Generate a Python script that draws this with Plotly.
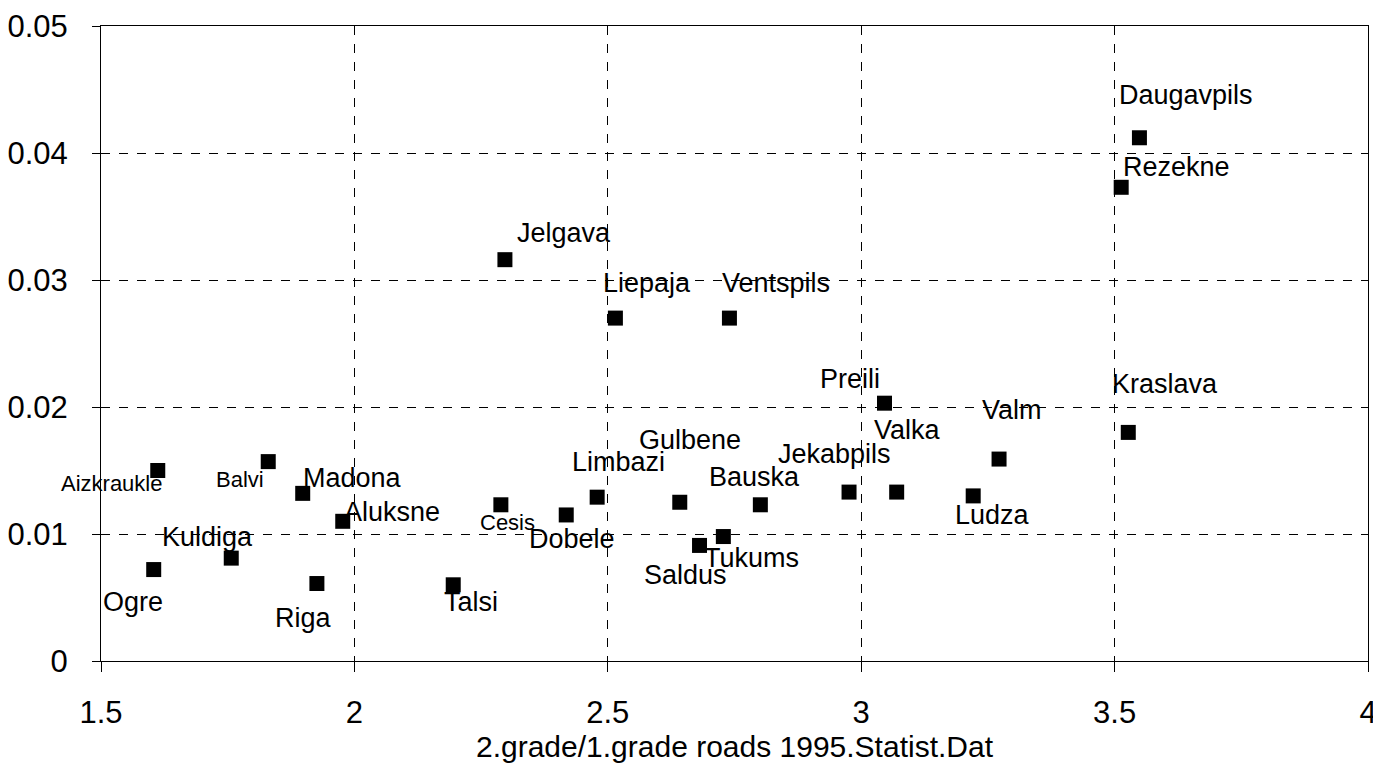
import plotly.graph_objects as go

FONT = "Liberation Sans, Arial, sans-serif"

# districts: ratio of 2nd/1st grade roads vs. y value
districts = ["Aizkraukle", "Ogre", "Kuldiga", "Balvi", "Madona", "Riga", "Aluksne",
             "Talsi", "Jelgava", "Liepaja", "Ventspils", "Daugavpils", "Rezekne",
             "Cesis", "Dobele", "Limbazi", "Gulbene", "Saldus", "Tukums", "Bauska",
             "Jekabpils", "Preili", "Valka", "Valm", "Ludza", "Kraslava"]
road_ratio = [1.612, 1.604, 1.757, 1.830, 1.898, 1.926, 1.977,
              2.195, 2.297, 2.515, 2.740, 3.549, 3.513,
              2.289, 2.418, 2.479, 2.642, 2.681, 2.728, 2.801,
              2.976, 3.046, 3.070, 3.272, 3.221, 3.527]
value = [0.0150, 0.0072, 0.0081, 0.0157, 0.0132, 0.0061, 0.0110,
         0.0060, 0.0316, 0.0270, 0.0270, 0.0412, 0.0373,
         0.0123, 0.0115, 0.0129, 0.0125, 0.0091, 0.0098, 0.0123,
         0.0133, 0.0203, 0.0133, 0.0159, 0.0130, 0.0180]

# label offsets from marker in px (dx right, dy down)
label_dx = [-46, -21, -24, -28, 50, -13, 49, 18, 59, 32, 47, 47, 55,
            7, 6, 21, 10, -14, 28, -6, -15, -35, 11, 13, 19, 37]
label_dy = [13, 32, -21, 18, -15, 34, -9, 17, -27, -35, -35, -43, -20,
            18, 24, -35, -62, 30, 21, -28, -38, -24, -62, -49, 19, -48]
small_labels = {"Aizkraukle", "Balvi", "Cesis"}

fig = go.Figure()
fig.add_trace(go.Scatter(
    x=road_ratio, y=value, mode="markers",
    marker=dict(symbol="square", size=15, color="black"),
    showlegend=False, hoverinfo="skip"))

for name, x, y, dx, dy in zip(districts, road_ratio, value, label_dx, label_dy):
    fig.add_annotation(x=x, y=y, text=name, showarrow=False,
                       xanchor="center", yanchor="middle",
                       xshift=dx, yshift=-dy,
                       font=dict(family=FONT, size=22 if name in small_labels else 27, color="black"))

axis_style = dict(showgrid=True, gridcolor="black", griddash="dash", gridwidth=1,
                  showline=True, linecolor="black", linewidth=1, mirror=True,
                  ticks="outside", tickcolor="black", zeroline=False, automargin=False,
                  tickfont=dict(family=FONT, size=31, color="black"))

fig.update_xaxes(range=[1.5, 4], dtick=0.5, tick0=1.5, ticklen=10,
                 ticklabelstandoff=14,
                 title=dict(text="2.grade/1.grade roads 1995.Statist.Dat",
                            font=dict(family=FONT, size=30, color="black"), standoff=2),
                 **axis_style)
fig.update_yaxes(range=[0, 0.05], dtick=0.01, ticklen=8, ticklabelstandoff=18,
                 **axis_style)

# the page body adds an 8px margin, so margins are offset accordingly
fig.update_layout(width=1381, height=763, paper_bgcolor="white", plot_bgcolor="white",
                  margin=dict(l=93, r=21, t=18, b=110))

fig.write_html("out.html")
